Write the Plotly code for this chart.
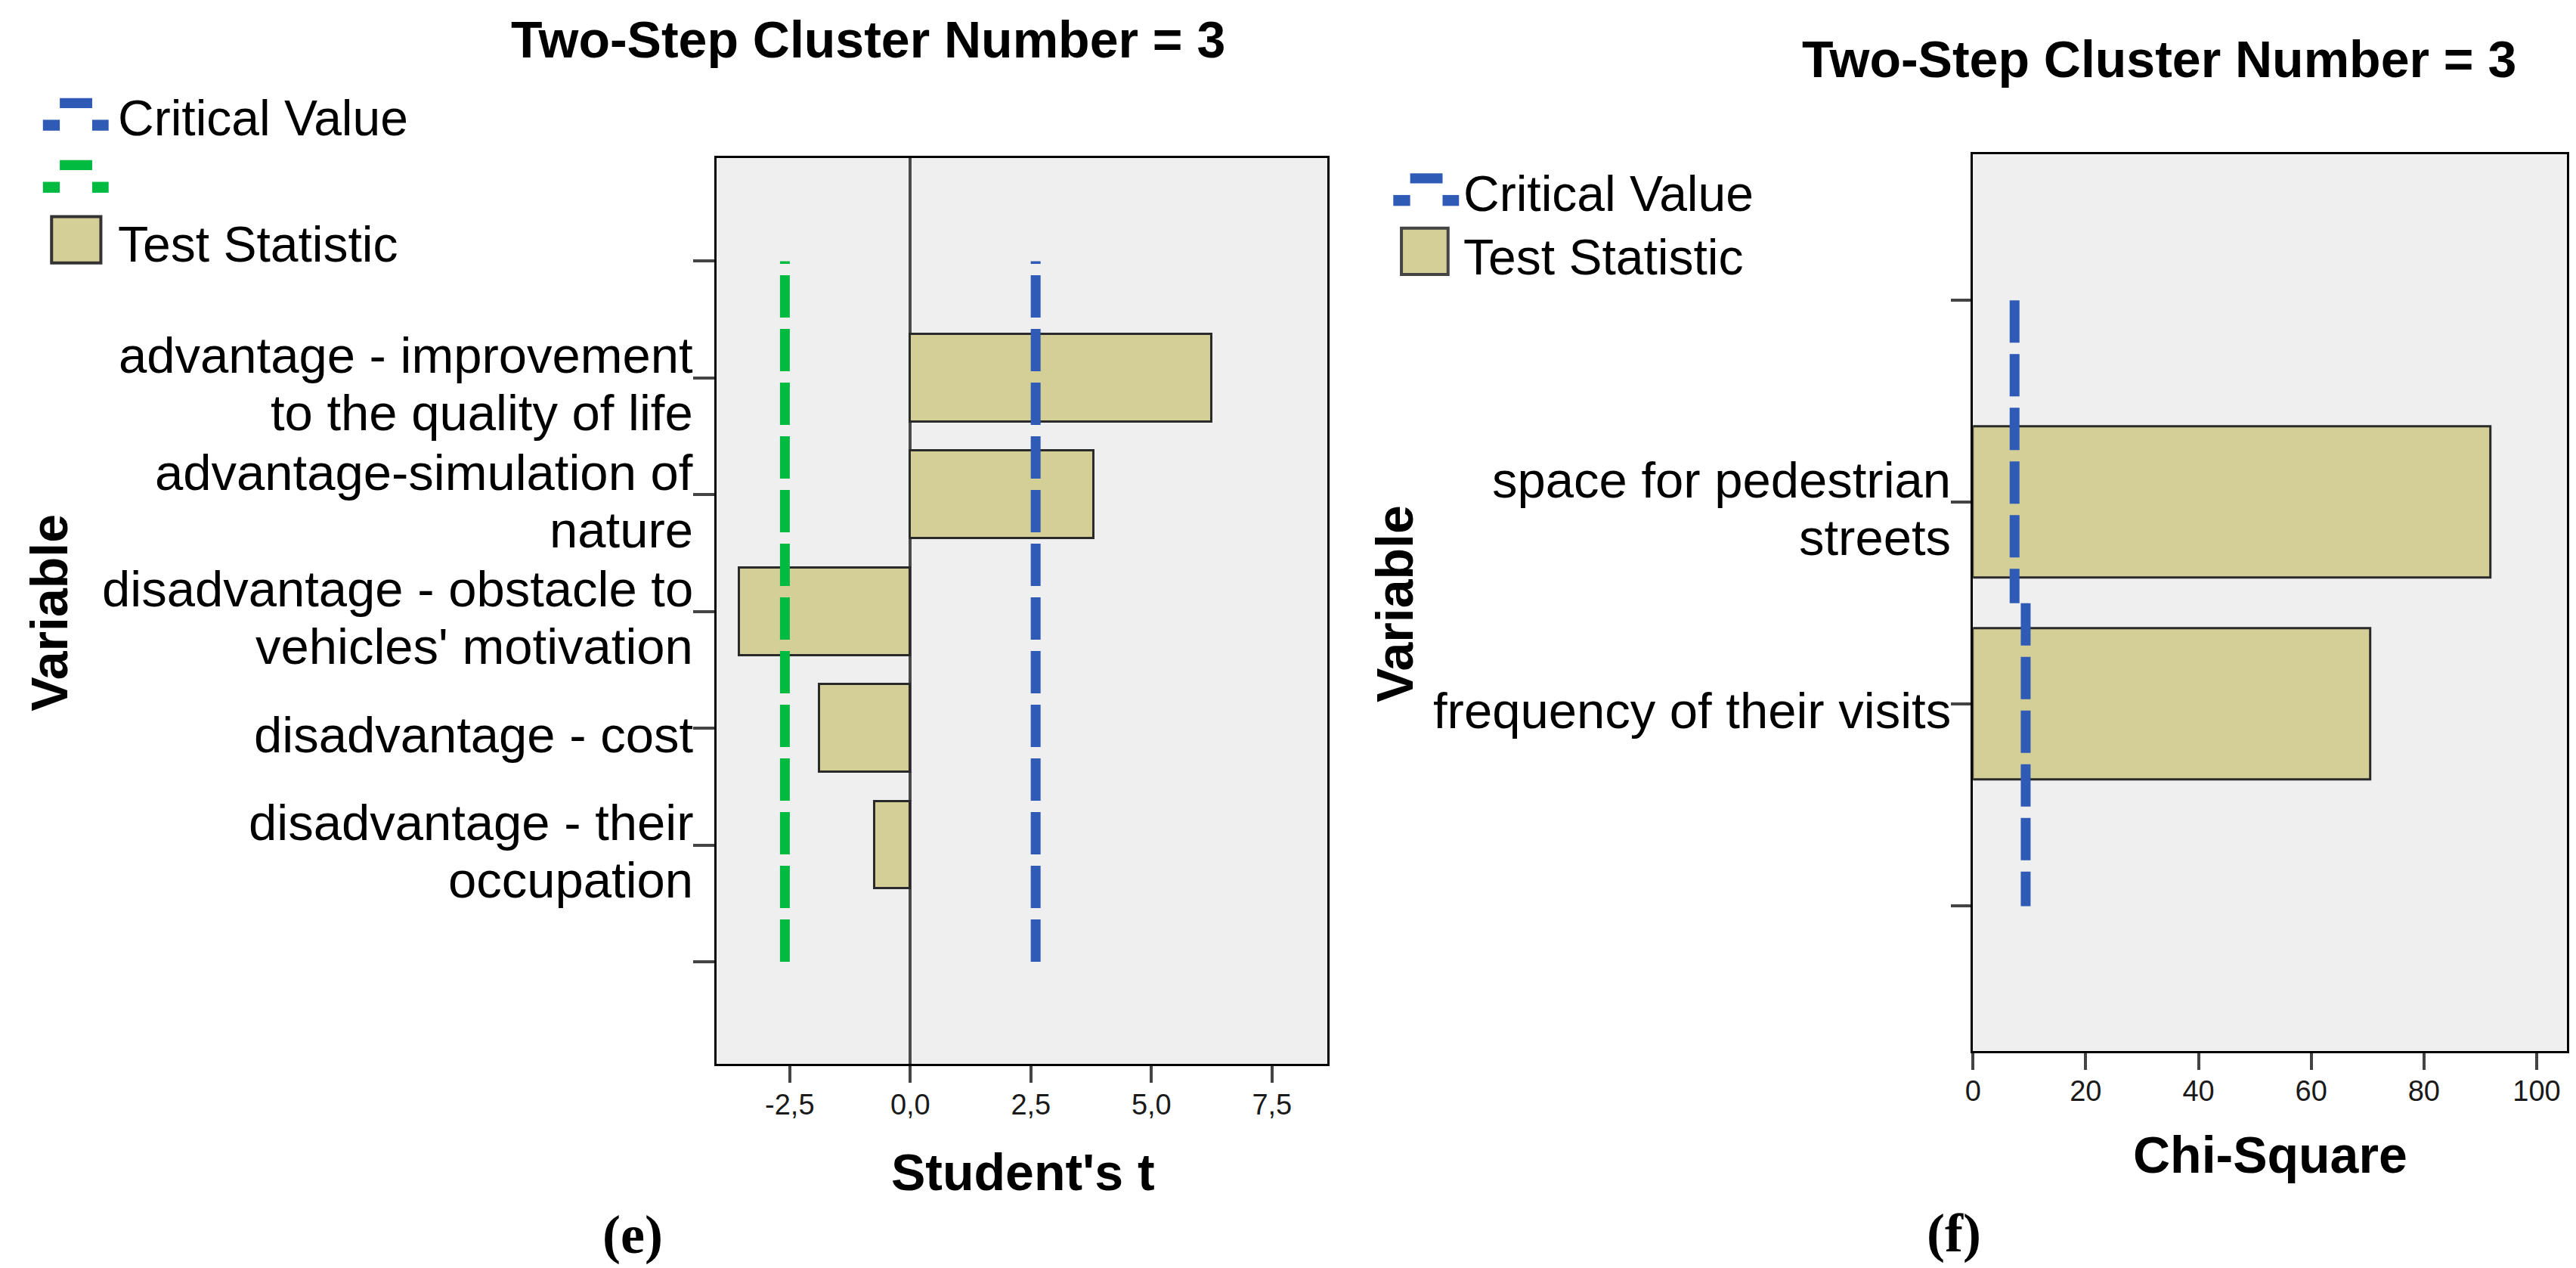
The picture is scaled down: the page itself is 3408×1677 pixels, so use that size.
import plotly.graph_objects as go

# ---------------- data ----------------
t_title = "Two-Step Cluster Number = 3"
t_axis_title = "Student's t"
t_variables = [
    "advantage - improvement\nto the quality of life",
    "advantage-simulation of\nnature",
    "disadvantage - obstacle to\nvehicles' motivation",
    "disadvantage - cost",
    "disadvantage - their\noccupation",
]
t_values = [6.25, 3.81, -3.55, -1.89, -0.74]
t_critical_upper = 2.6
t_critical_lower = -2.6
t_tickvals = [-2.5, 0, 2.5, 5, 7.5]
t_ticktext = ["-2,5", "0,0", "2,5", "5,0", "7,5"]

chi_title = "Two-Step Cluster Number = 3"
chi_axis_title = "Chi-Square"
chi_variables = [
    "space for pedestrian\nstreets",
    "frequency of their visits",
]
chi_values = [91.8, 70.5]
chi_critical = [7.38, 9.35]
chi_tickvals = [0, 20, 40, 60, 80, 100]
chi_ticktext = ["0", "20", "40", "60", "80", "100"]

legend_line_label = "Critical Value"
legend_bar_label = "Test Statistic"
panel_labels = ["(e)", "(f)"]

# ---------------- style ----------------
W, H = 3408, 1677
FONT = "Liberation Sans, Arial, sans-serif"
SERIF = "Liberation Serif, Times New Roman, serif"
BAR_FILL = "#D4CF97"
BAR_LINE = "#2a2a2a"
BLUE = "#2F5BB7"
GREEN = "#00BB40"
BG = "#EFEFEF"
LABEL_SIZE = 67
TITLE_SIZE = 68
TICK_SIZE = 38
LINE_GAP = 76
DASH = "56px,15px"
CRIT_W = 13


def px_x(p):
    return p / W


def px_y(p):
    return 1 - p / H


fig = go.Figure()

# ---------------- left panel (Student's t) ----------------
n_t = len(t_variables)
t_pos = list(range(1, n_t + 1))
fig.add_trace(go.Bar(
    x=t_values, y=t_pos, orientation="h", width=0.75,
    marker=dict(color=BAR_FILL, line=dict(color=BAR_LINE, width=3)),
    xaxis="x", yaxis="y", showlegend=False, name=legend_bar_label,
))
for val, col in [(t_critical_lower, GREEN), (t_critical_upper, BLUE)]:
    fig.add_trace(go.Scatter(
        x=[val, val], y=[n_t + 1, 0], mode="lines",
        line=dict(color=col, width=CRIT_W, dash=DASH),
        xaxis="x", yaxis="y", showlegend=False, name=legend_line_label,
    ))

# ---------------- right panel (Chi-square) ----------------
n_c = len(chi_variables)
c_pos = list(range(1, n_c + 1))
fig.add_trace(go.Bar(
    x=chi_values, y=c_pos, orientation="h", width=0.75,
    marker=dict(color=BAR_FILL, line=dict(color=BAR_LINE, width=3)),
    xaxis="x2", yaxis="y2", showlegend=False, name=legend_bar_label,
))
for i, (pos, val) in enumerate(zip(c_pos, chi_critical)):
    y0 = 0 if i == 0 else pos - 0.5
    y1 = n_c + 1 if i == n_c - 1 else pos + 0.5
    fig.add_trace(go.Scatter(
        x=[val, val], y=[y0, y1], mode="lines",
        line=dict(color=BLUE, width=CRIT_W, dash=DASH),
        xaxis="x2", yaxis="y2", showlegend=False, name=legend_line_label,
    ))

axis_common = dict(
    showgrid=False, showline=True, mirror=True, linecolor="black", linewidth=3,
    ticks="outside", tickcolor="#444", tickwidth=4,
    tickfont=dict(family=FONT, size=TICK_SIZE, color="#1a1a1a"),
)

fig.update_layout(
    width=W, height=H,
    margin=dict(l=0, r=0, t=0, b=0),
    paper_bgcolor="white", plot_bgcolor=BG,
    showlegend=False,
    bargap=0,
    xaxis=dict(axis_common, domain=[px_x(932), px_x(1743)], range=[-4.017, 8.653],
               tickvals=t_tickvals, ticktext=t_ticktext, ticklen=22, ticklabelstandoff=-4,
               zeroline=True, zerolinecolor="#4a4a4a", zerolinewidth=4, anchor="y"),
    yaxis=dict(axis_common, domain=[px_y(1399), px_y(201)], range=[n_t + 1.875, -0.884],
               tickvals=list(range(0, n_t + 2)), showticklabels=False, ticklen=28,
               zeroline=False, anchor="x"),
    xaxis2=dict(axis_common, domain=[px_x(2599.6), px_x(3387.7)], range=[0, 105.33],
                tickvals=chi_tickvals, ticktext=chi_ticktext, ticklen=22, ticklabelstandoff=-4,
                zeroline=False, anchor="y2"),
    yaxis2=dict(axis_common, domain=[px_y(1381.7), px_y(196.3)], range=[n_c + 1.716, -0.722],
                tickvals=list(range(0, n_c + 2)), showticklabels=False, ticklen=26,
                zeroline=False, anchor="x2"),
)

annotations = []
shapes = []


def add_text(text, xp, yp, size, anchor="center", bold=False, family=FONT, angle=0):
    annotations.append(dict(
        text=f"<b>{text}</b>" if bold else text,
        x=px_x(xp), y=px_y(yp), xref="paper", yref="paper",
        xanchor=anchor, yanchor="middle", showarrow=False, textangle=angle,
        font=dict(family=family, size=size, color="black"),
    ))


def add_category_labels(labels, positions, yref, x_right, spacing):
    for lab, pos in zip(labels, positions):
        lines = lab.split("\n")
        n = len(lines)
        for i, line in enumerate(lines):
            below = 8 + (i - (n - 1) / 2) * spacing
            annotations.append(dict(
                text=line, x=px_x(x_right), y=pos, xref="paper", yref=yref,
                xanchor="right", yanchor="middle", yshift=-below, showarrow=False,
                font=dict(family=FONT, size=LABEL_SIZE, color="black"),
            ))


add_category_labels(t_variables, t_pos, "y", 903, LINE_GAP)
add_category_labels(chi_variables, c_pos, "y2", 2572, LINE_GAP)

# titles
add_text(t_title, 1133.5, 44, TITLE_SIZE, bold=True)
add_text(chi_title, 2846.5, 70, TITLE_SIZE, bold=True)
add_text(t_axis_title, 1339, 1541.5, TITLE_SIZE, bold=True)
add_text(chi_axis_title, 2994.5, 1519, TITLE_SIZE, bold=True)
add_text("Variable", 46, 802, TITLE_SIZE, bold=True, angle=-90)
add_text("Variable", 1832, 791, TITLE_SIZE, bold=True, angle=-90)
add_text(panel_labels[0], 821, 1625, 72, bold=True, family=SERIF)
add_text(panel_labels[1], 2574, 1623, 72, bold=True, family=SERIF)


# legends (drawn by hand, SPSS style)
def rect(x0, y0, x1, y1, fill, line=None, lw=0):
    shapes.append(dict(
        type="rect", xref="paper", yref="paper",
        x0=px_x(x0), x1=px_x(x1), y0=px_y(y1), y1=px_y(y0),
        fillcolor=fill, line=dict(color=line or fill, width=lw),
    ))


def dash_symbol(xl, ytop, color):
    rect(xl + 22.4, ytop, xl + 65.4, ytop + 13.2, color)
    rect(xl, ytop + 28.7, xl + 22.4, ytop + 43.1, color)
    rect(xl + 65.4, ytop + 28.7, xl + 87.2, ytop + 43.1, color)


# left legend
dash_symbol(37.9, 121.7, BLUE)
add_text(legend_line_label, 135, 147.5, LABEL_SIZE - 1, anchor="left")
dash_symbol(37.9, 203.8, GREEN)
rect(49.4, 278.4, 114.8, 339.8, BAR_FILL, "#333", 4)
add_text(legend_bar_label, 135, 315, LABEL_SIZE - 1, anchor="left")

# right legend
dash_symbol(1830.2, 221.2, BLUE)
add_text(legend_line_label, 1921, 248, LABEL_SIZE - 1, anchor="left")
rect(1841, 293.8, 1902.9, 355.1, BAR_FILL, "#444", 4)
add_text(legend_bar_label, 1921, 331.5, LABEL_SIZE - 1, anchor="left")

fig.update_layout(annotations=annotations, shapes=shapes)

fig.write_html("out.html")
